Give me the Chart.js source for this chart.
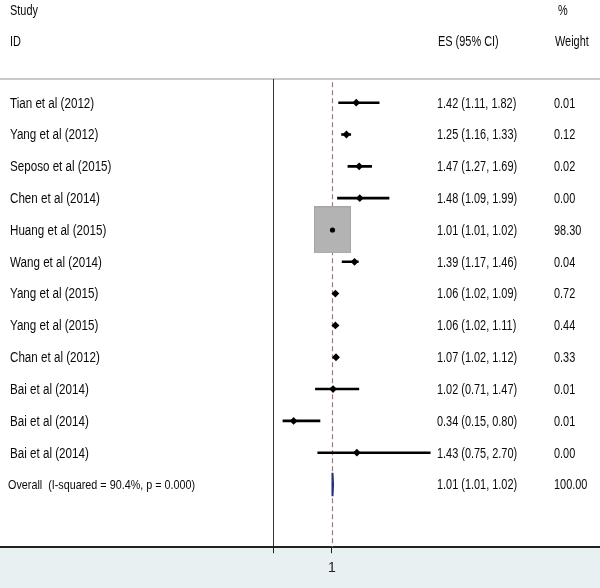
<!DOCTYPE html>
<html>
<head>
<meta charset="utf-8">
<script src="https://cdn.jsdelivr.net/npm/chart.js@4.4.1/dist/chart.umd.min.js"></script>
<style>
  html, body { margin: 0; padding: 0; background: #fff; }
</style>
</head>
<body>
<canvas id="ForestChart" width="600" height="588"></canvas>
<script>
const studies = [
    'Tian et al (2012)',
    'Yang et al (2012)',
    'Seposo et al (2015)',
    'Chen et al (2014)',
    'Huang et al (2015)',
    'Wang et al (2014)',
    'Yang et al (2015)',
    'Yang et al (2015)',
    'Chan et al (2012)',
    'Bai et al (2014)',
    'Bai et al (2014)',
    'Bai et al (2014)'
];
const es     = [1.42, 1.25, 1.47, 1.48, 1.01, 1.39, 1.06, 1.06, 1.07, 1.02, 0.34, 1.43];
const ciLow  = [1.11, 1.16, 1.27, 1.09, 1.01, 1.17, 1.02, 1.02, 1.02, 0.71, 0.15, 0.75];
const ciHigh = [1.82, 1.33, 1.69, 1.99, 1.02, 1.46, 1.09, 1.11, 1.12, 1.47, 0.80, 2.70];
const weights = [0.01, 0.12, 0.02, 0.00, 98.30, 0.04, 0.72, 0.44, 0.33, 0.01, 0.01, 0.00];

const overallLabel = 'Overall  (I-squared = 90.4%, p = 0.000)';
const overallES = 1.01;
const overallLow = 1.01;
const overallHigh = 1.02;
const overallWeight = 100.00;

const xTicks = [0, 1];

const FONT = "'Liberation Sans', Arial, sans-serif";
const overallRow = studies.length;
const maxWeight = Math.max(...weights);

// grey weight boxes (slightly taller than wide, like the original)
function weightBox(w) {
    const k = Math.sqrt(w / maxWeight);
    const c = document.createElement('canvas');
    c.width = Math.max(1, Math.round(37 * k));
    c.height = Math.max(1, Math.round(47 * k));
    const g = c.getContext('2d');
    g.fillStyle = '#b3b3b3';
    g.fillRect(0, 0, c.width, c.height);
    if (c.width > 4) {
        g.strokeStyle = '#a6a6a6';
        g.strokeRect(0.5, 0.5, c.width - 1, c.height - 1);
    }
    return c;
}

// CI segments separated by gaps
const ciData = [];
studies.forEach((s, i) => {
    ciData.push({x: ciLow[i], y: i}, {x: ciHigh[i], y: i}, {x: null, y: null});
});

const yMin = -0.745;
const yMax = 13.97;

const data_Forest = {
    datasets: [{
        label: 'points',
        data: es.map((v, i) => ({x: v, y: i})),
        pointStyle: (ctx) => weights[ctx.dataIndex] > 10 ? 'circle' : 'rectRot',
        pointRadius: (ctx) => weights[ctx.dataIndex] > 10 ? 2.6 : 3.9,
        backgroundColor: '#000',
        borderColor: '#000',
        borderWidth: 0,
        order: 1
    }, {
        label: 'overall',
        data: [
            {x: overallLow, y: overallRow},
            {x: overallES, y: overallRow - 0.37},
            {x: overallHigh, y: overallRow},
            {x: overallES, y: overallRow + 0.37},
            {x: overallLow, y: overallRow}
        ],
        showLine: true,
        borderColor: '#26327e',
        borderWidth: 2,
        pointRadius: 0,
        order: 2
    }, {
        label: 'ci',
        data: ciData,
        showLine: true,
        spanGaps: false,
        borderColor: '#000',
        borderWidth: 2.6,
        pointRadius: 0,
        order: 3
    }, {
        label: 'boxes',
        data: es.map((v, i) => ({x: v, y: i})),
        pointStyle: (ctx) => weightBox(weights[ctx.dataIndex]),
        pointRadius: 10,
        order: 5
    }, {
        label: 'overall line',
        data: [{x: overallES, y: yMin + 0.1}, {x: overallES, y: yMax}],
        showLine: true,
        borderColor: '#a8727c',
        borderWidth: 1.2,
        borderDash: [5, 3],
        pointRadius: 0,
        order: 6
    }]
};

// narrow text, like the condensed face of the original
function narrowText(c, text, x, y, size, sx) {
    c.save();
    c.font = size + 'px ' + FONT;
    c.translate(x, y);
    c.scale(sx, 1);
    c.fillText(text, 0, 0);
    c.restore();
}

const forestText = {
    id: 'forestText',
    beforeDraw(chart) {
        const c = chart.ctx;
        const a = chart.chartArea;
        c.save();
        c.fillStyle = '#ffffff';
        c.fillRect(0, 0, chart.width, chart.height);
        c.fillStyle = '#e9f0f2';
        c.fillRect(0, a.bottom, chart.width, chart.height - a.bottom);
        c.strokeStyle = '#c9c9c9';
        c.lineWidth = 2;
        c.beginPath();
        c.moveTo(0, a.top);
        c.lineTo(chart.width, a.top);
        c.stroke();
        c.restore();
    },
    afterDraw(chart) {
        const c = chart.ctx;
        const y = chart.scales.y;
        c.save();
        c.fillStyle = '#0a0a0a';
        c.textBaseline = 'middle';
        c.textAlign = 'left';
        narrowText(c, 'Study', 10, 11, 14, 0.78);
        narrowText(c, 'ID', 10, 42, 14, 0.78);
        narrowText(c, 'ES (95% CI)', 438, 42, 14, 0.78);
        narrowText(c, '%', 558, 11, 14, 0.78);
        narrowText(c, 'Weight', 555, 42, 14, 0.78);
        studies.forEach((s, i) => {
            const py = y.getPixelForValue(i) + 1;
            narrowText(c, s, 10, py, 14, 0.83);
            narrowText(c, es[i].toFixed(2) + ' (' + ciLow[i].toFixed(2) + ', ' + ciHigh[i].toFixed(2) + ')', 437, py, 14, 0.78);
            narrowText(c, weights[i].toFixed(2), 554, py, 14, 0.78);
        });
        const po = y.getPixelForValue(overallRow) + 1;
        narrowText(c, overallES.toFixed(2) + ' (' + overallLow.toFixed(2) + ', ' + overallHigh.toFixed(2) + ')', 437, po, 14, 0.78);
        narrowText(c, overallWeight.toFixed(2), 554, po, 14, 0.78);
        narrowText(c, overallLabel, 8, po, 13, 0.83);
        c.restore();
    }
};

const config_Forest = {
    type: 'scatter',
    data: data_Forest,
    plugins: [forestText],
    options: {
        responsive: false,
        animation: false,
        layout: {
            autoPadding: false,
            padding: {top: 79, bottom: 4, left: 0, right: 0}
        },
        scales: {
            x: {
                type: 'linear',
                min: -4.72,
                max: 5.62,
                afterBuildTicks: (scale) => {
                    scale.ticks = xTicks.map(v => ({value: v}));
                },
                border: {color: '#222', width: 2},
                grid: {
                    color: (ctx) => ctx.tick && ctx.tick.value === 0 ? '#333' : 'rgba(0,0,0,0)',
                    tickColor: '#222',
                    tickLength: 6,
                    lineWidth: 1
                },
                ticks: {
                    color: '#222',
                    padding: 7,
                    font: {size: 14, family: FONT},
                    callback: (v) => v === 1 ? '1' : ''
                }
            },
            y: {
                type: 'linear',
                display: false,
                reverse: true,
                min: yMin,
                max: yMax
            }
        },
        plugins: {
            legend: {display: false},
            tooltip: {enabled: false}
        }
    }
};

const myChart_Forest = new Chart(
    document.getElementById('ForestChart'),
    config_Forest
);
</script>
</body>
</html>
